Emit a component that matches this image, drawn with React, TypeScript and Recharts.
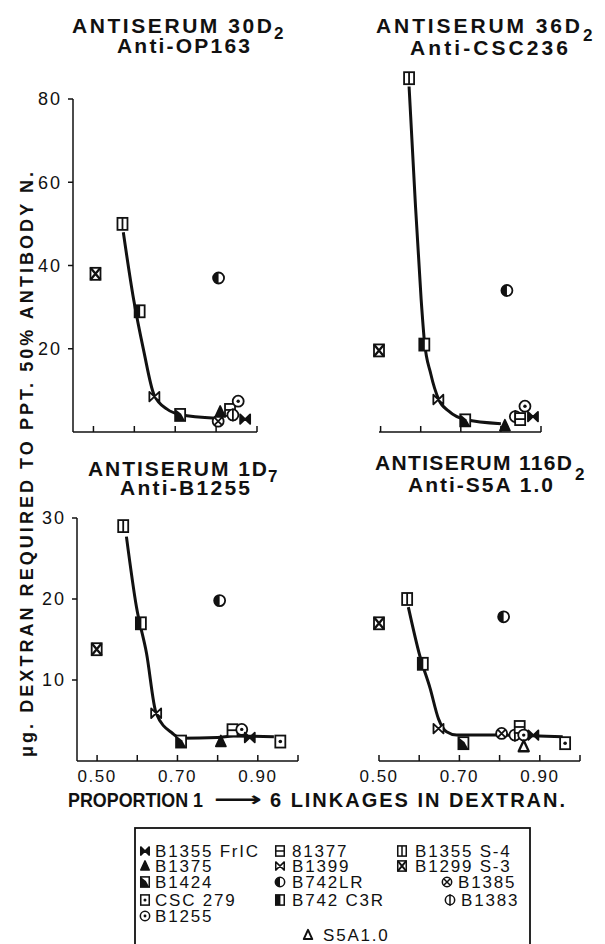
import React from 'react';
import { ComposedChart, Line, Scatter, XAxis, YAxis } from 'recharts';

// readings: x = proportion of 1->6 linkages, y = ug dextran
// symbol keys refer to the legend entries below

// Antiserum 30D2, anti-OP163
const X_30D2 = [0.505, 0.571, 0.613, 0.649, 0.712, 0.806, 0.805, 0.81, 0.834, 0.841, 0.854, 0.871];
const Y_30D2 = [38, 50, 29, 8.5, 4.1, 37, 2.6, 4.8, 5.3, 4.1, 7.4, 3.1];
const S_30D2 = ['s3', 's4', 'b742c3r', 'b1399', 'b1424', 'b742lr', 'b1385', 'b1375', 'b1377', 'b1383', 'b1255', 'fric'];
const CX_30D2 = [0.573, 0.598, 0.623, 0.648, 0.68, 0.712, 0.8];
const CY_30D2 = [48, 32, 19.5, 9, 5.5, 4.2, 3.3];

// Antiserum 36D2, anti-CSC236
const X_36D2 = [0.496, 0.571, 0.609, 0.644, 0.711, 0.815, 0.81, 0.836, 0.848, 0.86, 0.88];
const Y_36D2 = [19.6, 85, 21, 7.8, 2.8, 34, 1.5, 3.7, 3.1, 6.2, 3.7];
const S_36D2 = ['s3', 's4', 'b742c3r', 'b1399', 'b1424', 'b742lr', 'b1375', 'b1383', 'b1377', 'b1255', 'fric'];
const CX_36D2 = [0.571, 0.586, 0.601, 0.609, 0.625, 0.645, 0.67, 0.711, 0.8];
const CY_36D2 = [83, 56, 32, 22, 14, 7.8, 5, 3, 2];

// Antiserum 1D7, anti-B1255
const X_1D7 = [0.499, 0.565, 0.609, 0.647, 0.709, 0.808, 0.805, 0.837, 0.86, 0.88, 0.956];
const Y_1D7 = [13.8, 29, 17, 5.9, 2.4, 2.4, 19.8, 3.8, 3.9, 2.9, 2.4];
const S_1D7 = ['s3', 's4', 'b742c3r', 'b1399', 'b1424', 'b1375', 'b742lr', 'b1377', 'b1255', 'fric', 'csc279'];
const CX_1D7 = [0.573, 0.598, 0.623, 0.647, 0.688, 0.709, 0.8, 0.84, 0.94];
const CY_1D7 = [27.7, 19, 13.3, 5.9, 3.4, 2.8, 2.9, 3.1, 3.0];

// Antiserum 116D2, anti-S5A 1.0
const X_116D2 = [0.5, 0.57, 0.609, 0.648, 0.71, 0.81, 0.805, 0.838, 0.85, 0.86, 0.86, 0.884, 0.963];
const Y_116D2 = [17, 20, 12, 4.0, 2.2, 17.8, 3.4, 3.2, 4.2, 3.2, 1.8, 3.2, 2.2];
const S_116D2 = ['s3', 's4', 'b742c3r', 'b1399', 'b1424', 'b742lr', 'b1385', 'b1383', 'b1377', 'b1255', 's5a', 'fric', 'csc279'];
const CX_116D2 = [0.573, 0.602, 0.627, 0.648, 0.668, 0.693, 0.8, 0.957];
const CY_116D2 = [19, 12.9, 9, 5.2, 3.6, 3.2, 3.2, 3.0];

const Y_TICKS_TOP = [20, 40, 60, 80];
const Y_TICKS_BOTTOM = [10, 20, 30];
const X_TICKS_SHORT = [0.5, 0.6, 0.7, 0.8, 0.9];
const X_TICKS_LONG = [0.5, 0.6, 0.7, 0.8, 0.9, 1.0];
const X_LABELS = [0.5, 0.7, 0.9];

const LEGEND_KEYS = ['fric', 'b1375', 'b1424', 'csc279', 'b1255', 'b1377', 'b1399', 'b742lr', 'b742c3r', 's4', 's3', 'b1385', 'b1383', 's5a'];
const LEGEND_NAMES = ['B1355 FrIC', 'B1375', 'B1424', 'CSC 279', 'B1255', '81377', 'B1399', 'B742LR', 'B742 C3R', 'B1355 S-4', 'B1299 S-3', 'B1385', 'B1383', 'S5A1.0'];

const INK = '#111';
const FONT = '"Liberation Sans", Arial, sans-serif';

const zip = (xs: number[], ys: number[], ss?: string[]) =>
  xs.map((x, i) => ({ x, y: ys[i], sym: ss ? ss[i] : '' }));

function Glyph({ sym, cx, cy, k = 1 }: { sym: string; cx: number; cy: number; k?: number }) {
  const a = 5 * k, b = 6 * k, r = 5.5 * k, sw = 1.8 * k;
  const box = <rect x={cx - a} y={cy - b} width={2 * a} height={2 * b} fill="#fff" stroke={INK} strokeWidth={sw} />;
  const ring = <circle cx={cx} cy={cy} r={r} fill="#fff" stroke={INK} strokeWidth={sw} />;
  switch (sym) {
    case 'fric':
      return <path d={`M${cx - a},${cy - b * 0.8}L${cx},${cy}L${cx - a},${cy + b * 0.8}Z M${cx + a},${cy - b * 0.8}L${cx},${cy}L${cx + a},${cy + b * 0.8}Z`} fill={INK} stroke={INK} strokeWidth={sw} strokeLinejoin="round" />;
    case 'b1399':
      return <path d={`M${cx - a},${cy - b * 0.8}L${cx + a},${cy + b * 0.8}L${cx + a},${cy - b * 0.8}L${cx - a},${cy + b * 0.8}Z`} fill="#fff" stroke={INK} strokeWidth={sw} strokeLinejoin="round" />;
    case 'b1375':
      return <path d={`M${cx},${cy - b}L${cx + a},${cy + b * 0.8}L${cx - a},${cy + b * 0.8}Z`} fill={INK} stroke={INK} strokeWidth={sw} strokeLinejoin="round" />;
    case 's5a':
      return <path d={`M${cx},${cy - b}L${cx + a},${cy + b * 0.8}L${cx - a},${cy + b * 0.8}Z`} fill="#fff" stroke={INK} strokeWidth={sw * 1.3} strokeLinejoin="round" />;
    case 'b1424':
      return <g>{box}<path d={`M${cx - a},${cy - b}L${cx - a},${cy + b}L${cx + a},${cy + b}L${cx + a * 0.2},${cy - b * 0.2}Z`} fill={INK} /></g>;
    case 'csc279':
      return <g>{box}<circle cx={cx} cy={cy} r={1.8 * k} fill={INK} /></g>;
    case 'b1255':
      return <g>{ring}<circle cx={cx} cy={cy} r={1.7 * k} fill={INK} /></g>;
    case 'b1377':
      return <g>{box}<line x1={cx - a} x2={cx + a} y1={cy} y2={cy} stroke={INK} strokeWidth={sw} /></g>;
    case 'b742lr':
      return <g>{ring}<path d={`M${cx},${cy - r}A${r},${r} 0 0 0 ${cx},${cy + r}Z`} fill={INK} /></g>;
    case 'b742c3r':
      return <g>{box}<rect x={cx - a} y={cy - b} width={a * 1.1} height={2 * b} fill={INK} /></g>;
    case 's4':
      return <g>{box}<line x1={cx} x2={cx} y1={cy - b} y2={cy + b} stroke={INK} strokeWidth={sw} /></g>;
    case 's3':
      return <g>{box}<path d={`M${cx - a},${cy - b}L${cx + a},${cy + b}M${cx + a},${cy - b}L${cx - a},${cy + b}`} stroke={INK} strokeWidth={sw * 1.3} /></g>;
    case 'b1385':
      return <g>{ring}<path d={`M${cx - r * 0.7},${cy - r * 0.7}L${cx + r * 0.7},${cy + r * 0.7}M${cx + r * 0.7},${cy - r * 0.7}L${cx - r * 0.7},${cy + r * 0.7}`} stroke={INK} strokeWidth={sw} /></g>;
    case 'b1383':
      return <g>{ring}<line x1={cx} x2={cx} y1={cy - r - 1} y2={cy + r + 1} stroke={INK} strokeWidth={sw} /></g>;
    default:
      return <circle cx={cx} cy={cy} r={3} fill={INK} />;
  }
}

const renderGlyph = (p: any) => <Glyph sym={p.payload.sym} cx={p.cx} cy={p.cy} />;

const makeXTick = (labels: number[]) => (props: any) => {
  const { x, y, payload } = props;
  const lab = labels.find((l) => Math.abs(l - payload.value) < 1e-6);
  return (
    <g>
      <line x1={x} x2={x} y1={y} y2={y - 6} stroke={INK} strokeWidth={1.5} />
      {lab !== undefined && (
        <text x={x} y={y + 21} textAnchor="middle" fontSize={17} letterSpacing={1.5} fontFamily={FONT} fill={INK}>
          {lab.toFixed(2)}
        </text>
      )}
    </g>
  );
};

type PanelProps = {
  left: number; top: number; w: number; h: number;
  margin: { top: number; right: number; bottom: number; left: number };
  xDomain: [number, number]; yDomain: [number, number];
  xTicks: number[]; xLabels: number[]; yTicks?: number[];
  points: { x: number; y: number; sym: string }[];
  curve: { x: number; y: number }[];
};

// axes get 1px of room (a 0px axis is not drawn), so margins are one less than the gap wanted
function Panel(p: PanelProps) {
  const m = { ...p.margin, bottom: p.margin.bottom - 1, left: p.yTicks ? p.margin.left - 1 : p.margin.left };
  return (
    <div style={{ position: 'absolute', left: p.left, top: p.top }}>
      <ComposedChart width={p.w} height={p.h} margin={m}>
        <XAxis
          type="number" dataKey="x" domain={p.xDomain} ticks={p.xTicks} height={1}
          tickSize={0} tickMargin={0} tickLine={false}
          axisLine={{ stroke: INK, strokeWidth: 1.5 }}
          tick={makeXTick(p.xLabels)} interval={0}
        />
        <YAxis
          type="number" dataKey="y" domain={p.yDomain} width={1}
          hide={!p.yTicks} ticks={p.yTicks} interval={0}
          tickSize={5} tickMargin={6}
          axisLine={{ stroke: INK, strokeWidth: 1.5 }}
          tickLine={{ stroke: INK, strokeWidth: 1.5 }}
          tick={{ fill: INK, fontSize: 18, fontFamily: FONT, letterSpacing: 2 }}
        />
        <Line data={p.curve} dataKey="y" type="monotone" stroke={INK} strokeWidth={3} dot={false} activeDot={false} isAnimationActive={false} />
        <Scatter data={p.points} shape={renderGlyph} isAnimationActive={false} />
      </ComposedChart>
    </div>
  );
}

// legend layout: symbol x, text x, baseline y (same order as LEGEND_KEYS)
const LEGEND_POS = [
  [145, 155, 857], [145, 155, 872], [145, 155, 888], [145, 155, 906], [145, 155, 922],
  [280, 292, 857], [280, 292, 872], [280, 292, 888], [280, 292, 906],
  [402, 415, 857], [402, 415, 872], [447, 458, 888], [450, 461, 906],
  [308, 323, 941],
];

const titleStyle = { fontFamily: FONT, fontWeight: 700, fill: INK } as const;

function Title({ x, y, w, main, sub, subX, subY, x2, y2, w2, line2 }: any) {
  return (
    <g style={titleStyle}>
      <text x={x} y={y} fontSize={21} textLength={w}>{main}</text>
      <text x={subX} y={subY} fontSize={17}>{sub}</text>
      <text x={x2} y={y2} fontSize={21} textLength={w2}>{line2}</text>
    </g>
  );
}

export default function App() {
  return (
    <div style={{ position: 'absolute', left: 0, top: 0, width: 605, height: 944, background: '#fff', overflow: 'hidden' }}>
      <Panel
        left={0} top={50} w={300} h={400}
        margin={{ top: 49, right: 43, bottom: 18, left: 73 }}
        xDomain={[0.45, 0.9]} yDomain={[0, 80]} xTicks={X_TICKS_SHORT} xLabels={[]} yTicks={Y_TICKS_TOP}
        points={zip(X_30D2, Y_30D2, S_30D2)} curve={zip(CX_30D2, CY_30D2)}
      />
      <Panel
        left={300} top={50} w={305} h={400}
        margin={{ top: 15.7, right: 64, bottom: 18, left: 79 }}
        xDomain={[0.5, 0.9]} yDomain={[0, 88]} xTicks={X_TICKS_SHORT} xLabels={[]}
        points={zip(X_36D2, Y_36D2, S_36D2)} curve={zip(CX_36D2, CY_36D2)}
      />
      <Panel
        left={0} top={450} w={300} h={350}
        margin={{ top: 68, right: 2, bottom: 39, left: 77 }}
        xDomain={[0.45, 1.0]} yDomain={[0, 30]} xTicks={X_TICKS_LONG} xLabels={X_LABELS} yTicks={Y_TICKS_BOTTOM}
        points={zip(X_1D7, Y_1D7, S_1D7)} curve={zip(CX_1D7, CY_1D7)}
      />
      <Panel
        left={300} top={450} w={305} h={350}
        margin={{ top: 68, right: 25, bottom: 39, left: 79 }}
        xDomain={[0.5, 1.0]} yDomain={[0, 30]} xTicks={X_TICKS_LONG} xLabels={X_LABELS}
        points={zip(X_116D2, Y_116D2, S_116D2)} curve={zip(CX_116D2, CY_116D2)}
      />

      <svg width={605} height={944} style={{ position: 'absolute', left: 0, top: 0, pointerEvents: 'none' }}>
        <Title x={72} y={33} w={200} main="ANTISERUM 30D" sub="2" subX={274} subY={39} x2={117} y2={53} w2={133} line2="Anti-OP163" />
        <Title x={376} y={33} w={204} main="ANTISERUM 36D" sub="2" subX={583} subY={41} x2={410} y2={55} w2={158} line2="Anti-CSC236" />
        <Title x={88} y={476} w={179} main="ANTISERUM 1D" sub="7" subX={268} subY={482} x2={120} y2={495} w2={130} line2="Anti-B1255" />
        <Title x={375} y={470} w={197} main="ANTISERUM 116D" sub="2" subX={575} subY={480} x2={408} y2={492} w2={145} line2="Anti-S5A 1.0" />

        <text transform="translate(33,757) rotate(-90)" fontSize={18} textLength={585} style={titleStyle}>
          μg. DEXTRAN REQUIRED TO PPT. 50% ANTIBODY N.
        </text>

        <g style={titleStyle}>
          <text x={68} y={807} fontSize={20} textLength={135} lengthAdjust="spacingAndGlyphs">PROPORTION 1</text>
          <text x={214} y={806} fontSize={20} textLength={48} lengthAdjust="spacingAndGlyphs" fontFamily="DejaVu Sans">⟶</text>
          <text x={270} y={807} fontSize={20} textLength={295}>6 LINKAGES IN DEXTRAN.</text>
        </g>

        <rect x={135} y={828} width={395} height={140} fill="none" stroke={INK} strokeWidth={1.8} />
        {LEGEND_KEYS.map((k, i) => (
          <g key={k}>
            <Glyph sym={k} cx={LEGEND_POS[i][0]} cy={LEGEND_POS[i][2] - 6} k={0.85} />
            <text x={LEGEND_POS[i][1]} y={LEGEND_POS[i][2]} fontSize={17} letterSpacing={1.8} fontFamily={FONT} fill={INK}>
              {LEGEND_NAMES[i]}
            </text>
          </g>
        ))}
      </svg>
    </div>
  );
}
